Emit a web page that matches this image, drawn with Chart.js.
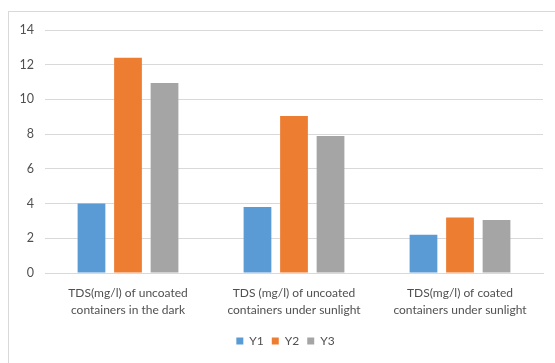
<!DOCTYPE html>
<html>
<head>
<meta charset="utf-8">
<script src="https://cdn.jsdelivr.net/npm/chart.js@4.4.1/dist/chart.umd.min.js"></script>
<style>
  html, body { margin: 0; padding: 0; background: #ffffff; }
  #wrap { width: 555px; height: 363px; }
</style>
</head>
<body>
<div id="wrap"><canvas id="c" width="555" height="363"></canvas></div>
<script>
// Categories (multi-line axis labels)
const categories = [
  ["TDS(mg/l) of uncoated", "containers in the dark"],
  ["TDS (mg/l) of uncoated", "containers under sunlight"],
  ["TDS(mg/l) of coated", "containers under sunlight"]
];

// Series values
const seriesNames = ["Y1", "Y2", "Y3"];
const y1Values = [4.0, 3.8, 2.2];
const y2Values = [12.4, 9.05, 3.2];
const y3Values = [10.95, 7.9, 3.05];

// Value axis ticks
const yTickMin = 0;
const yTickMax = 14;
const yTickStep = 2;

const colors = ["#5b9bd5", "#ed7d31", "#a5a5a5"];
const textColor = "#505050";
const gridColor = "#d9d9d9";
const fontFamily = "Lato, 'Open Sans', sans-serif";

// Thin outer frame around the chart; legend centred on that frame
const framePlugin = {
  id: "frame",
  afterLayout(chart) {
    const lg = chart.legend;
    if (lg) { lg.left += 10; lg.right += 10; }
  },
  beforeDraw(chart) {
    const ctx = chart.ctx;
    ctx.save();
    ctx.fillStyle = "#ffffff";
    ctx.fillRect(0, 0, chart.width, chart.height);
    ctx.strokeStyle = "#d9d9d9";
    ctx.lineWidth = 1;
    ctx.strokeRect(8.5, 11.5, 570, 370);
    ctx.restore();
  }
};

new Chart(document.getElementById("c"), {
  type: "bar",
  data: {
    labels: categories,
    datasets: [y1Values, y2Values, y3Values].map((vals, i) => ({
      label: seriesNames[i],
      data: vals,
      backgroundColor: colors[i],
      borderWidth: 0,
      categoryPercentage: 0.66,
      barPercentage: 0.76
    }))
  },
  options: {
    responsive: false,
    animation: false,
    layout: { padding: { left: 8, right: 12, top: 30, bottom: 6 } },
    plugins: {
      legend: {
        position: "bottom",
        labels: {
          color: textColor,
          font: { family: fontFamily, size: 12 },
          boxWidth: 7,
          boxHeight: 7,
          padding: 8
        }
      },
      tooltip: { enabled: false }
    },
    scales: {
      x: {
        grid: { display: false, drawTicks: false },
        border: { color: gridColor },
        ticks: {
          color: textColor,
          font: { family: fontFamily, size: 12, lineHeight: 1.4 },
          maxRotation: 0,
          autoSkip: false,
          padding: 12
        },
        afterFit(scale) { scale.height = 54; }
      },
      y: {
        min: yTickMin,
        max: yTickMax,
        grid: { color: gridColor, drawTicks: false },
        border: { display: false },
        ticks: {
          stepSize: yTickStep,
          color: textColor,
          font: { family: fontFamily, size: 12.5 },
          padding: 11
        },
        afterFit(scale) { scale.width = 37; }
      }
    }
  },
  plugins: [framePlugin]
});
</script>
</body>
</html>
